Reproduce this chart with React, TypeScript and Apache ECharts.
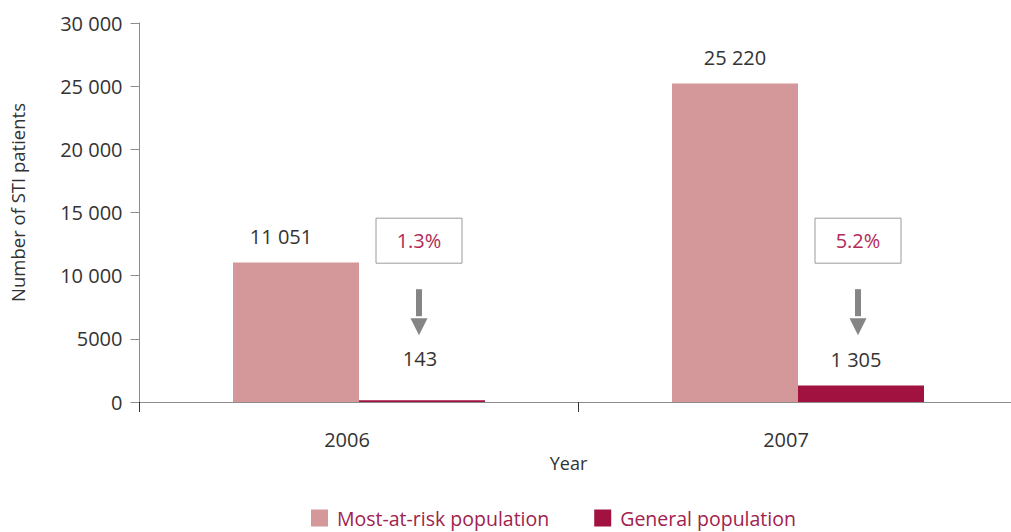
import React, { useEffect, useRef } from "react";
import * as echarts from "echarts";

const categories = ["2006", "2007"];
const mostAtRisk = [11051, 25220];
const general = [143, 1305];
const shares = ["1.3%", "5.2%"];
const seriesNames = ["Most-at-risk population", "General population"];
const yMin = 0;
const yMax = 30000;
const yInterval = 5000;

const FONT = "'Open Sans', 'Noto Sans', sans-serif";
const PINK = "#d4979a";
const MAROON = "#a11241";
const TEXT = "#333333";
const AXIS = "#8c8c8c";

const spaced = (v: number) => String(v).replace(/\B(?=(\d{3})+(?!\d))/g, " ");
const axisFmt = (v: number) => (v >= 10000 ? spaced(v) : String(v));

export default function App() {
  const ref = useRef<HTMLDivElement>(null);
  useEffect(() => {
    if (!ref.current) return;
    const chart = echarts.init(ref.current, null, { renderer: "svg" });
    const barWidth = 126;
    const labelStyle = {
      show: true,
      position: "top",
      distance: 16,
      color: TEXT,
      fontSize: 20,
      fontFamily: FONT,
      formatter: (p: any) => spaced(p.value),
    };
    const option: any = {
      animation: false,
      textStyle: { fontFamily: FONT },
      grid: {
        left: 139.5,
        top: 23,
        width: 878,
        height: 379,
        containLabel: false,
        outerBoundsMode: "none",
      },
      legend: {
        bottom: -1,
        left: 306,
        itemWidth: 17,
        itemHeight: 17,
        itemGap: 45,
        icon: "rect",
        data: seriesNames,
        textStyle: { color: "#a0224d", fontSize: 19.5, fontFamily: FONT, padding: [0, 0, 0, 4] },
      },
      xAxis: {
        type: "category",
        data: categories,
        name: "Year",
        nameLocation: "middle",
        nameGap: 44,
        nameTextStyle: { color: TEXT, fontSize: 18, fontFamily: FONT, padding: [0, 20, 0, 0] },
        axisLine: { show: true, lineStyle: { color: AXIS, width: 1 } },
        axisTick: { show: true, length: 10, alignWithLabel: false, lineStyle: { color: "#333" } },
        axisLabel: { color: TEXT, fontSize: 20, margin: 27, fontFamily: FONT, padding: [0, 24, 0, 0] },
      },
      yAxis: {
        type: "value",
        min: yMin,
        max: yMax,
        interval: yInterval,
        name: "Number of STI patients",
        nameLocation: "middle",
        nameGap: 113,
        nameTextStyle: { color: TEXT, fontSize: 18.5, fontFamily: FONT, padding: [0, 0, 0, 20] },
        axisLine: { show: true, lineStyle: { color: AXIS, width: 1 } },
        axisTick: { show: true, length: 9, lineStyle: { color: AXIS } },
        axisLabel: { color: TEXT, fontSize: 20, margin: 17, fontFamily: FONT, formatter: axisFmt },
        splitLine: { show: false },
      },
      series: [
        {
          name: seriesNames[0],
          type: "bar",
          data: mostAtRisk.map((v, i) => (i === 0 ? { value: v, label: { offset: [-15, 0] } } : v)),
          barWidth,
          barGap: "0%",
          itemStyle: { color: PINK },
          label: labelStyle,
        },
        {
          name: seriesNames[1],
          type: "bar",
          barWidth,
          barGap: "0%",
          data: general.map((v, i) =>
            i === 0 ? { value: v, label: { offset: [-2, -16] } } : { value: v, label: { offset: [-5, 0] } }
          ),
          itemStyle: { color: MAROON },
          label: labelStyle,
        },
      ],
    };
    chart.setOption(option);

    const graphics: any[] = [];
    categories.forEach((c, i) => {
      const [cx] = chart.convertToPixel({ gridIndex: 0 }, [i, 0]) as number[];
      const x = cx + 60;
      const boxTop = (chart.convertToPixel({ gridIndex: 0 }, [i, 14550]) as number[])[1];
      const boxW = 86;
      const boxH = 45;
      graphics.push({
        type: "rect",
        shape: { x: x - boxW / 2, y: boxTop, width: boxW, height: boxH },
        style: { fill: "#fff", stroke: "#9a9a9a", lineWidth: 1 },
      });
      graphics.push({
        type: "text",
        x,
        y: boxTop + boxH / 2,
        style: {
          text: shares[i],
          fill: "#b22a55",
          fontSize: 20,
          fontFamily: FONT,
          align: "center",
          verticalAlign: "middle",
        },
      });
      const aTop = boxTop + boxH + 26;
      graphics.push({
        type: "rect",
        shape: { x: x - 3, y: aTop, width: 6, height: 27 },
        style: { fill: "#858585" },
      });
      graphics.push({
        type: "polygon",
        shape: { points: [[x - 8.5, aTop + 29], [x + 8.5, aTop + 29], [x, aTop + 46]] },
        style: { fill: "#858585" },
      });
    });
    chart.setOption({ graphic: graphics });

    return () => chart.dispose();
  }, []);
  return <div ref={ref} style={{ width: 1011, height: 532, position: "absolute", left: 0, top: 0 }} />;
}
